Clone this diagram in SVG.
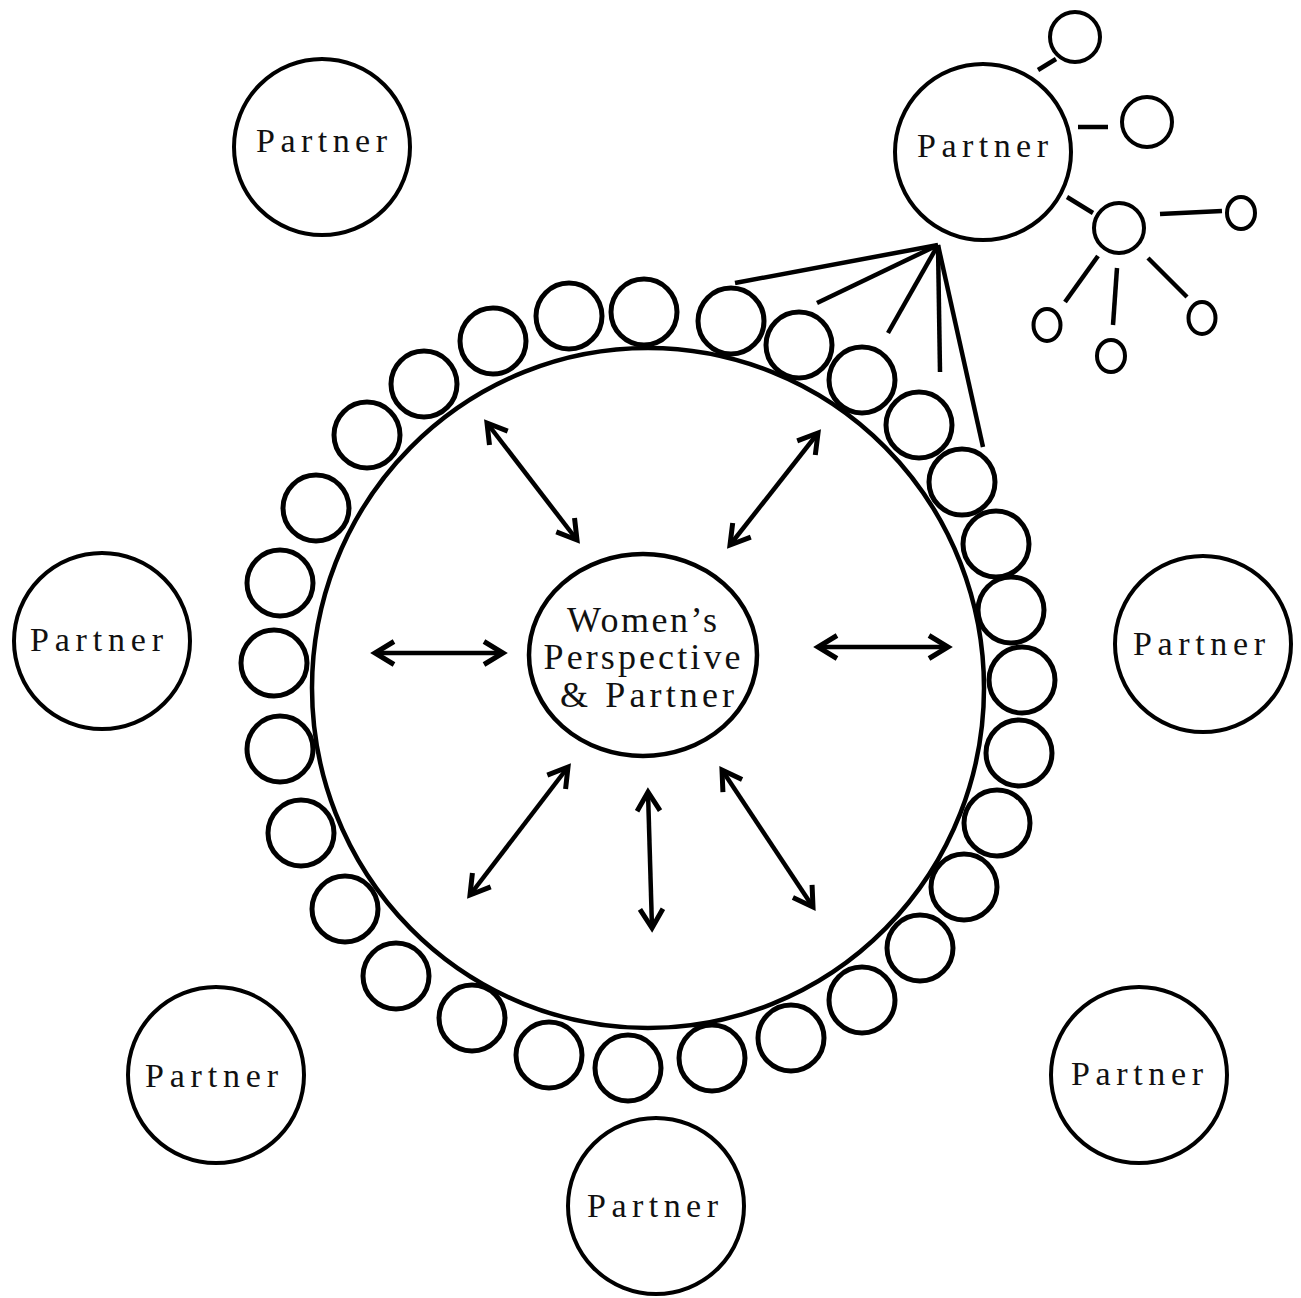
<svg xmlns="http://www.w3.org/2000/svg" width="1301" height="1298" viewBox="0 0 1301 1298">
<style>
.p{fill:none;stroke:#000;stroke-width:4}
.b{fill:#fff;stroke:#000;stroke-width:4.5}
.s{fill:none;stroke:#000;stroke-width:5}
.sat{fill:#fff;stroke:#000;stroke-width:4}
.ln{stroke:#000;stroke-width:4.5;stroke-linecap:butt}
.ar{stroke:#000;stroke-width:4.5;marker-start:url(#ah);marker-end:url(#ah)}
text{font-family:"Liberation Serif","DejaVu Serif",serif;fill:#111;text-anchor:middle}
.pt{font-size:34px}
.ct{font-size:36px}
</style>
<defs>
<marker id="ah" markerUnits="userSpaceOnUse" markerWidth="40" markerHeight="40" viewBox="-25 -20 30 40" refX="0" refY="0" orient="auto-start-reverse">
<path d="M-19,-11.5 L0,0 L-19,11.5" fill="none" stroke="#000" stroke-width="5" stroke-linejoin="miter"/>
</marker>
</defs>
<rect width="1301" height="1298" fill="#fff"/>

<g id="ring">
<ellipse cx="648" cy="688" rx="336" ry="340" class="b"/>
</g>

<g id="ring-members">
<circle cx="569" cy="316" r="33" class="s"/>
<circle cx="644" cy="312" r="33" class="s"/>
<circle cx="731" cy="321" r="33" class="s"/>
<circle cx="799" cy="345" r="33" class="s"/>
<circle cx="862" cy="380" r="33" class="s"/>
<circle cx="919" cy="425" r="33" class="s"/>
<circle cx="962" cy="482" r="33" class="s"/>
<circle cx="996" cy="544" r="33" class="s"/>
<circle cx="1011" cy="610" r="33" class="s"/>
<circle cx="1022" cy="680" r="33" class="s"/>
<circle cx="1019" cy="753" r="33" class="s"/>
<circle cx="997" cy="823" r="33" class="s"/>
<circle cx="964" cy="887" r="33" class="s"/>
<circle cx="920" cy="948" r="33" class="s"/>
<circle cx="862" cy="1000" r="33" class="s"/>
<circle cx="791" cy="1038" r="33" class="s"/>
<circle cx="712" cy="1058" r="33" class="s"/>
<circle cx="628" cy="1068" r="33" class="s"/>
<circle cx="549" cy="1055" r="33" class="s"/>
<circle cx="472" cy="1018" r="33" class="s"/>
<circle cx="396" cy="976" r="33" class="s"/>
<circle cx="345" cy="909" r="33" class="s"/>
<circle cx="301" cy="833" r="33" class="s"/>
<circle cx="280" cy="749" r="33" class="s"/>
<circle cx="274" cy="663" r="33" class="s"/>
<circle cx="280" cy="583" r="33" class="s"/>
<circle cx="316" cy="508" r="33" class="s"/>
<circle cx="367" cy="435" r="33" class="s"/>
<circle cx="424" cy="384" r="33" class="s"/>
<circle cx="493" cy="341" r="33" class="s"/>
</g>

<g id="center">
<ellipse cx="643" cy="655" rx="114" ry="101" class="b"/>
<text class="ct" x="642" y="632" textLength="150" lengthAdjust="spacing">Women’s</text>
<text class="ct" x="642" y="669" textLength="197" lengthAdjust="spacing">Perspective</text>
<text class="ct" x="647" y="707" textLength="174" lengthAdjust="spacing">&amp; Partner</text>
</g>

<g id="partner-tl"><circle cx="322" cy="147" r="88" class="p"/><text class="pt" x="321.5" y="152" textLength="131" lengthAdjust="spacing">Partner</text></g>
<g id="partner-l"><circle cx="102" cy="641" r="88" class="p"/><text class="pt" x="96.5" y="651" textLength="133" lengthAdjust="spacing">Partner</text></g>
<g id="partner-r"><circle cx="1203" cy="644" r="88" class="p"/><text class="pt" x="1199" y="655" textLength="132" lengthAdjust="spacing">Partner</text></g>
<g id="partner-bl"><circle cx="216" cy="1075" r="88" class="p"/><text class="pt" x="211.5" y="1087" textLength="133" lengthAdjust="spacing">Partner</text></g>
<g id="partner-b"><circle cx="656" cy="1206" r="88" class="p"/><text class="pt" x="652.5" y="1217" textLength="131" lengthAdjust="spacing">Partner</text></g>
<g id="partner-br"><circle cx="1139" cy="1075" r="88" class="p"/><text class="pt" x="1137" y="1085" textLength="132" lengthAdjust="spacing">Partner</text></g>
<g id="partner-tr"><circle cx="983" cy="152" r="88" class="p"/><text class="pt" x="982.5" y="157" textLength="131" lengthAdjust="spacing">Partner</text></g>

<g id="satellites">
<circle cx="1075" cy="37" r="25" class="sat"/>
<circle cx="1147" cy="122" r="25" class="sat"/>
<circle cx="1119" cy="228" r="25" class="sat"/>
<ellipse cx="1241" cy="213" rx="14" ry="16" class="sat"/>
<ellipse cx="1047" cy="325" rx="13.5" ry="16" class="sat"/>
<ellipse cx="1111" cy="356" rx="14" ry="16" class="sat"/>
<ellipse cx="1202" cy="318" rx="13.5" ry="16" class="sat"/>
</g>

<g id="connectors">
<line class="ln" x1="1038" y1="70" x2="1056" y2="59"/>
<line class="ln" x1="1078" y1="127" x2="1108" y2="127"/>
<line class="ln" x1="1067" y1="197" x2="1093" y2="213"/>
<line class="ln" x1="1160" y1="214" x2="1222" y2="211"/>
<line class="ln" x1="1065" y1="302" x2="1098" y2="256"/>
<line class="ln" x1="1113" y1="325" x2="1117" y2="268"/>
<line class="ln" x1="1148" y1="258" x2="1187" y2="297"/>
<line class="ln" x1="938" y1="245" x2="735" y2="283"/>
<line class="ln" x1="938" y1="245" x2="817" y2="303"/>
<line class="ln" x1="938" y1="245" x2="888" y2="333"/>
<line class="ln" x1="938" y1="245" x2="940" y2="372"/>
<line class="ln" x1="938" y1="245" x2="983" y2="447"/>
<line class="ar" x1="487" y1="423" x2="577" y2="540"/>
<line class="ar" x1="818" y1="433" x2="730" y2="545"/>
<line class="ar" x1="375" y1="653" x2="503" y2="653"/>
<line class="ar" x1="818" y1="647" x2="948" y2="647"/>
<line class="ar" x1="568" y1="767" x2="470" y2="895"/>
<line class="ar" x1="648" y1="792" x2="652" y2="928"/>
<line class="ar" x1="722" y1="770" x2="813" y2="907"/>
</g>
</svg>
